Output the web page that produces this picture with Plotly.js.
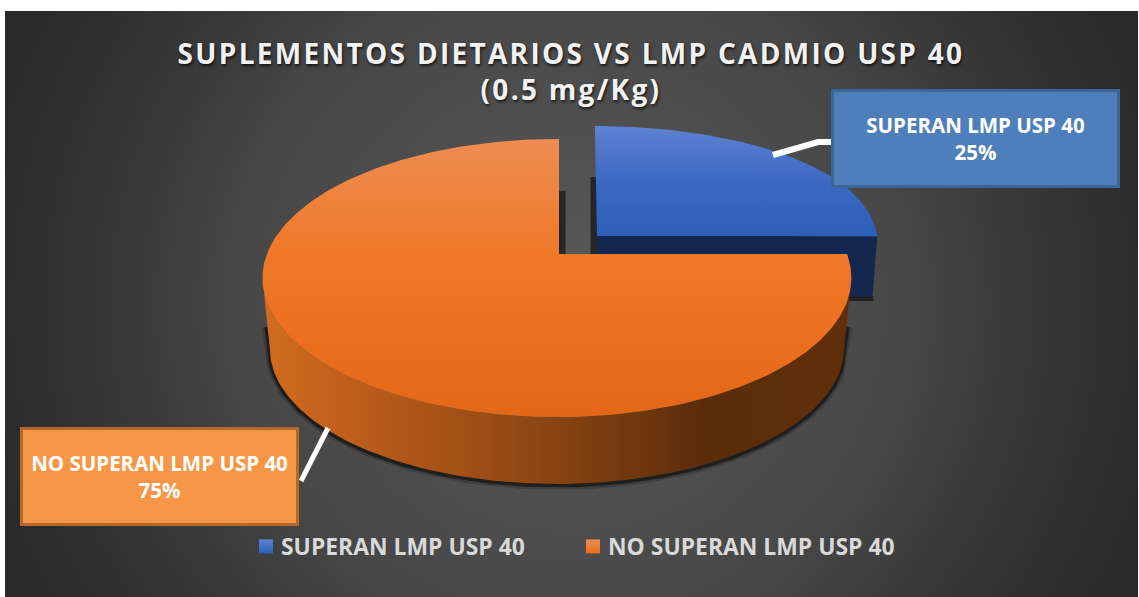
<!DOCTYPE html>
<html><head><meta charset="utf-8">
<script src="https://cdn.plot.ly/plotly-3.0.1.min.js"></script>
<style>
html,body{margin:0;padding:0;background:#fff;width:1139px;height:597px;overflow:hidden}
#bg{position:absolute;left:5px;top:11px;width:1133px;height:586px;background:radial-gradient(circle 600px at 50% 50%,#5a5a5a 0%,#474747 55%,#3a3a3a 73%,#2a2a2a 100%)}
#chart{position:absolute;left:0;top:0;width:1139px;height:597px}
.gtitle{letter-spacing:2.3px}
.legend .legendsymbols{transform:translateX(5px)}
</style></head><body>
<div id="bg"></div><div id="chart"></div>
<script>
// ---- data ----
const categories = ["SUPERAN LMP USP 40", "NO SUPERAN LMP USP 40"];
const shares = [25, 75];
const titleLines = ["SUPLEMENTOS DIETARIOS VS LMP CADMIO USP 40", "(0.5 mg/Kg)"];

// ---- styles ----
const topScales = [
  [[0,"#2C5FB8"],[0.5,"#3D69C4"],[1,"#5C82D2"]],
  [[0,"#E36716"],[0.3,"#EC7020"],[0.6,"#F0792A"],[1,"#EE8C52"]]
];
const wallScale = [[0,"#D26C1E"],[0.22,"#B4581A"],[0.48,"#8A4612"],[0.75,"#5C2C0A"],[1,"#612F0A"]];
const blueWall = "#14284F";
const legendTop = ["#5C82D2","#EE8C52"], legendBottom = ["#2C5FB8","#EA6C1A"];
const boxFill = ["#4E7FBB","#F79646"], boxLine = ["#3B6697","#B5682E"];

// ---- pie geometry (projected disc, in the pixel-valued axes) ----
const apex = {x:559, y:254}, B = 290, A = 134.9, K = 0.1727, M = 0.007;
const pull = [{u:0.1346, v:0.1366}, {u:0, v:0}];   // exploded first slice
const baseShift = [60, 71], baseScale = [0.985, 0.975];
const kx = [K*0.35, K], sx = [0.983, 1];
function project(i, u, v, drop, scale){
  const w = 1 + K*v + M*u, wx = 1 + kx[i]*v + M*u;
  return [apex.x + sx[i]*scale*B*u/wx, apex.y - scale*A*v/w + drop];
}
const edge = (i, deg, drop, scale) => {
  const t = deg*Math.PI/180;
  return project(i, pull[i].u + Math.sin(t), pull[i].v + Math.cos(t), drop, scale);
};
function arc(i, a0, a1, drop, scale){
  const pts = [], n = Math.max(2, Math.round(Math.abs(a1-a0)));
  for(let k=0;k<=n;k++) pts.push(edge(i, a0+(a1-a0)*k/n, drop, scale));
  return pts;
}
const hub = (i, drop, scale) => project(i, pull[i].u, pull[i].v, drop, scale);
const total = shares.reduce((a,b)=>a+b,0);
const a1 = 360*shares[0]/total;     // boundary between the two slices
const poly = (pts, extra) => Object.assign({
  x: pts.map(p=>p[0]), y: pts.map(p=>p[1]), type:"scatter", mode:"lines",
  line:{width:0}, fill:"toself", hoverinfo:"skip", showlegend:false
}, extra);
const stroke = (pts, color, width) => ({
  x: pts.map(p=>p[0]), y: pts.map(p=>p[1]), type:"scatter", mode:"lines",
  line:{color, width, shape:"linear"}, hoverinfo:"skip", showlegend:false
});

const traces = [];
// soft shadows under the pie and in the gap
const baseArc = [edge(1,100,48,0.985)].concat(arc(1, 100, 260, baseShift[1], baseScale[1]), [edge(1,260,48,0.985)]);
traces.push(stroke(baseArc.map(p=>[p[0],p[1]+1]), "rgba(0,0,0,0.2)", 10));
traces.push(stroke(baseArc.map(p=>[p[0],p[1]+1]), "rgba(0,0,0,0.5)", 5));
const h0 = hub(1,0,1), h1 = hub(0,0,1);
traces.push(stroke([[h0[0]+3,191],[h0[0]+3,h0[1]]], "rgba(0,0,0,0.55)", 7));
traces.push(stroke([[h1[0]-3,177],[h1[0]-3,h0[1]]], "rgba(0,0,0,0.55)", 7));
const bb = [edge(0,a1,baseShift[0],baseScale[0]), hub(0,baseShift[0],baseScale[0])];
traces.push(stroke([[bb[0][0]+1,bb[0][1]+2],[bb[1][0],bb[1][1]+2]], "rgba(0,0,0,0.55)", 5));

// blue slice: front wall, then top
traces.push(poly([hub(0,0,1), edge(0,a1,0,1), edge(0,a1,baseShift[0],baseScale[0]), hub(0,baseShift[0],baseScale[0])], {fillcolor:blueWall}));
traces.push(poly([hub(0,0,1)].concat(arc(0,0,a1,0,1)), {
  fillgradient:{type:"vertical", colorscale:topScales[0]}, hoverinfo:"text",
  text:categories[0]+": "+shares[0]+"%", name:categories[0], hoveron:"fills"}));
// orange slice: curved wall, then top
traces.push(poly(arc(1,100,260,0,1).concat(arc(1,260,100,baseShift[1],baseScale[1])), {
  fillgradient:{type:"horizontal", colorscale:wallScale}}));
traces.push(poly([hub(1,0,1)].concat(arc(1,a1,360,0,1)), {
  fillgradient:{type:"vertical", colorscale:topScales[1]}, hoverinfo:"text",
  text:categories[1]+": "+shares[1]+"%", name:categories[1], hoveron:"fills"}));

// leader lines from the slices to their callouts
const leaders = [[[773,155],[818,142],[832,142]], [[328,428],[301,481]]];
leaders.forEach((l,i)=>traces.push(stroke(l,"#FFFFFF",i?5:6)));

// legend entries
categories.forEach((c,i)=>traces.push({
  x:[null], y:[null], type:"scatter", mode:"markers", name:c, showlegend:true,
  marker:{symbol:"square", size:14, color:legendTop[i], gradient:{type:"vertical", color:legendBottom[i]}}
}));

// callouts
const boxes = [{x:975.5,y:138.5,w:283},{x:159.5,y:476.5,w:273}];
const annotations = categories.map((c,i)=>({
  xref:"x", yref:"y", x:boxes[i].x, y:boxes[i].y, xanchor:"center", yanchor:"middle",
  text:c+"<br>"+shares[i]+"%", showarrow:false, width:boxes[i].w, height:93, align:"center", valign:"middle",
  bgcolor:boxFill[i], bordercolor:boxLine[i], borderwidth:3, borderpad:0,
  font:{family:"Open Sans, sans-serif", size:20.5, color:"#FFFFFF", weight:700}
}));

const layout = {
  width:1139, height:597, margin:{l:0,r:0,t:0,b:0,pad:0},
  paper_bgcolor:"rgba(0,0,0,0)", plot_bgcolor:"rgba(0,0,0,0)",
  xaxis:{range:[0,1139], visible:false, fixedrange:true},
  yaxis:{range:[597,0], visible:false, fixedrange:true},
  title:{text:titleLines.join("<br>"), x:571/1139, xanchor:"center", y:0.893, yanchor:"top",
    font:{family:"Open Sans, sans-serif", size:28, weight:700, color:"#F2F2F2", shadow:"1px 2px 3px rgba(0,0,0,0.7)"}},
  showlegend:true,
  legend:{orientation:"h", x:241/1139, xanchor:"left", y:1-(525/597), yanchor:"top",
    bgcolor:"rgba(0,0,0,0)", borderwidth:0, traceorder:"normal",
    entrywidth:282, entrywidthmode:"pixels",
    font:{family:"Open Sans, sans-serif", size:22.9, color:"#D9D9D9", weight:700}},
  annotations, hovermode:"closest"
};
Plotly.newPlot("chart", traces, layout, {displayModeBar:false, responsive:false});
</script>
</body></html>
